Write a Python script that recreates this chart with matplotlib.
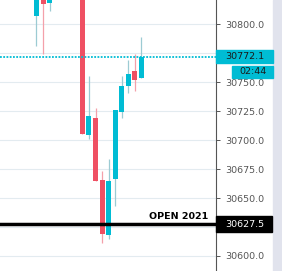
import numpy as np
import matplotlib
matplotlib.use('Agg')
from matplotlib import pyplot as plt
from matplotlib.patches import Rectangle
from matplotlib.transforms import blended_transform_factory

# candle data (nan = off-screen above the visible window)
idx = [0, 1, 2, 7, 8, 9, 10, 11, 12, 13, 14, 15, 16]
opens = [30807.4, 30830.0, 30818.6, 30880.0, 30704.7, 30719.1, 30665.6, 30618.4, 30666.7, 30724.6, 30747.0, 30759.7, 30753.6]
highs = [30840.0, 30840.0, 30840.0, 30890.0, 30755.4, 30727.8, 30673.6, 30683.7, 30726.0, 30755.4, 30769.2, 30774.4, 30789.0]
lows = [30781.5, 30774.6, 30811.7, 30705.6, 30701.3, 30665.0, 30611.5, 30615.0, 30643.4, 30719.4, 30740.7, 30742.4, 30753.6]
closes = [30835.0, 30817.8, 30830.0, 30705.6, 30720.8, 30665.0, 30619.3, 30664.7, 30726.0, 30746.7, 30757.1, 30751.9, 30772.1]

last_price = 30772.1
countdown = "02:44"
open_level = 30627.5
open_label = "OPEN 2021"
yticks = [30600, 30625, 30650, 30675, 30700, 30725, 30750, 30775, 30800]

UP = '#00bcd4'
DOWN = '#ef5063'
UP_WICK = '#9ccbd3'
DOWN_WICK = '#f4a0aa'

fig = plt.figure(figsize=(2.82, 2.71), dpi=100)
fig.patch.set_facecolor('white')
ax = fig.add_axes([0, 0, 216 / 282, 1])

# lavender strip on the far right
fig.patches.append(Rectangle((273 / 282, 0), 9 / 282, 1, transform=fig.transFigure,
                             color='#e1e3ed', zorder=0))

for i, o, h, l, c in zip(idx, opens, highs, lows, closes):
    up = c >= o
    ax.vlines(i, l, h, color=UP_WICK if up else DOWN_WICK, lw=0.9, zorder=2)
    ax.bar(i, c - o, bottom=o, width=0.76, color=UP if up else DOWN, zorder=3)

ax.set_xlim(-5.56, 27.36)
ax.set_ylim(30587.05, 30820.98)

for t in yticks:
    ax.axhline(t, color='#e3ebf0', lw=0.8, zorder=1)

ax.axhline(last_price, color=UP, lw=1.3, linestyle=(0, (1, 0.8)), zorder=4)
ax.axhline(open_level, color='black', lw=2.5, zorder=5)
ax.text(26.14, open_level + 2.5, open_label, ha='right', va='bottom',
        fontsize=6.8, fontweight='bold', color='black')

ax.yaxis.tick_right()
ax.set_yticks(yticks[::1])
ax.set_yticklabels(['' if t == 30625 or t == 30775 else '%.1f' % t for t in yticks])
ax.tick_params(axis='y', length=3, width=0.7, color='#555555', pad=3.5,
               labelsize=6.8, labelcolor='#555555')
ax.set_xticks([])
for s in ['top', 'left', 'bottom']:
    ax.spines[s].set_visible(False)
ax.spines['right'].set_color('#555555')
ax.spines['right'].set_linewidth(0.8)

# price labels on the axis
tr = blended_transform_factory(fig.transFigure, ax.transData)
upp = 1 / 1.1585  # data units per pixel
fig.patches.append(Rectangle((216 / 282, last_price - 6.5 * upp), 57 / 282, 13 * upp,
                             transform=tr, color=UP, zorder=6))
fig.text(225 / 282, last_price, '%.1f' % last_price, transform=tr, va='center',
         ha='left', fontsize=6.8, color='#1a1a1a', zorder=7)
fig.patches.append(Rectangle((232 / 282, last_price - 21 * upp), 41 / 282, 12 * upp,
                             transform=tr, color=UP, zorder=6))
fig.text(252.5 / 282, last_price - 15 * upp, countdown, transform=tr, va='center',
         ha='center', fontsize=6.8, color='#1a1a1a', zorder=7)
fig.patches.append(Rectangle((216 / 282, open_level - 8.3 * upp), 56 / 282, 16.3 * upp,
                             transform=tr, color='black', zorder=6))
fig.text(225 / 282, open_level, '%.1f' % open_level, transform=tr, va='center',
         ha='left', fontsize=6.8, color='white', zorder=7)

plt.savefig('out.png', dpi=100)
